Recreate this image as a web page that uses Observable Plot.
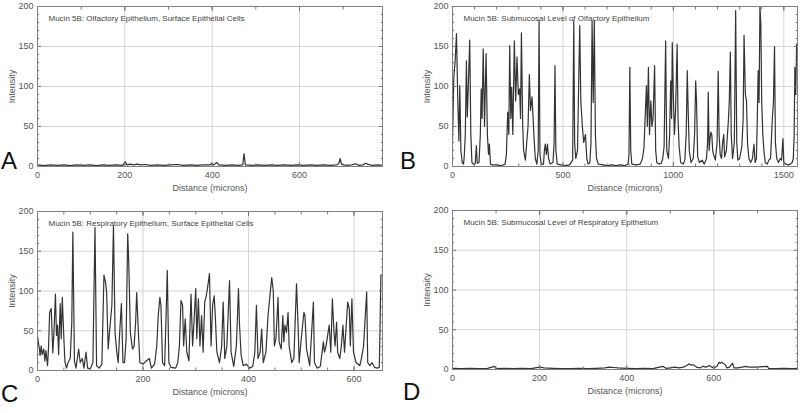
<!DOCTYPE html>
<html><head><meta charset="utf-8">
<script src="https://cdn.jsdelivr.net/npm/d3@7"></script>
<script src="https://cdn.jsdelivr.net/npm/@observablehq/plot@0.6"></script>
<style>
body{margin:0;background:#fff;}
#wrap{position:relative;width:800px;height:413px;overflow:hidden;font-family:"Liberation Sans",Arial,sans-serif;}
.panel{position:absolute;}
.letter{position:absolute;font-size:24px;line-height:24px;color:#111;font-family:"Liberation Sans",Arial,sans-serif;}
</style></head><body><div id="wrap"></div><script>
// ---------- data ----------
const panelLetters = ["A", "B", "C", "D"];
const panelTitles = [
  "Mucin 5B: Olfactory Epithelium, Surface Epithelial Cells",
  "Mucin 5B: Submucosal Level of Olfactory Epitheilum",
  "Mucin 5B: Respiratory Epitheilum, Surface Epithelial Cells",
  "Mucin 5B: Submucosal Level of Respiratory Epithelium"
];
const xLabel = "Distance (microns)";
const yLabel = "Intensity";
const yTicks = [0, 50, 100, 150, 200];
const yMinorTicks = [10,20,30,40,60,70,80,90,110,120,130,140,160,170,180,190];
const xMaxes = [790, 1562, 654, 792];
const xMajorTicks = [[0, 200, 400, 600], [0, 500, 1000, 1500], [0, 200, 400, 600], [0, 200, 400, 600]];
const xMinorTicks = [
  [100, 200, 300, 400, 500, 600, 700],
  [100, 200, 300, 400, 500, 600, 700, 800, 900, 1000, 1100, 1200, 1300, 1400, 1500],
  [50, 100, 150, 200, 250, 300, 350, 400, 450, 500, 550, 600],
  [100, 200, 300, 400, 500, 600, 700]
];

// [distance, intensity]
const panelA = [[0,2],[15,1],[30,2],[45,1.5],[60,2],[75,1],[90,2],[105,1.5],[120,2],[135,1],[150,2],[165,1.5],[180,2],[195,1.5],[201,6],[205,2],[212,3],[220,2],[228,3],[236,2],[245,2.5],[260,1.5],[275,2],[290,1.5],[305,2],[320,2.5],[335,1.5],[350,2],[365,1.5],[380,2],[395,2],[399,4],[403,2],[411,5],[415,2],[430,1.5],[445,2],[460,1.5],[470,2],[473,16],[476,2],[490,1.5],[505,2],[520,1.5],[535,2],[550,1.5],[565,2],[580,1.5],[595,2],[610,1.5],[625,2],[640,1.5],[655,2],[670,1.5],[685,2],[690,4],[693,10],[696,3],[705,1.5],[720,2],[729,3.5],[735,1.5],[745,2],[752,4],[756,3],[765,1.5],[780,2],[790,1.5]];

const panelB = [[0,30],[6,112],[12,132],[18,166],[24,82],[29,32],[33,101],[38,20],[44,5],[50,3],[53,12],[58,40],[63,132],[67,62],[71,95],[78,158],[83,40],[88,5],[95,3],[103,4],[108,26],[112,4],[120,5],[126,40],[130,97],[134,60],[139,147],[145,50],[152,141],[158,40],[163,15],[167,28],[172,3],[180,2],[200,2],[220,1],[238,3],[244,15],[250,68],[255,40],[259,151],[264,60],[268,99],[273,40],[280,157],[286,82],[292,137],[298,90],[304,97],[308,60],[312,167],[318,50],[322,20],[330,8],[336,30],[342,50],[348,115],[353,70],[360,87],[365,60],[370,32],[375,10],[382,3],[388,20],[392,182],[396,15],[402,3],[412,3],[416,20],[420,28],[425,15],[430,28],[435,10],[442,3],[455,5],[460,30],[464,126],[468,20],[474,3],[490,2],[510,1],[530,2],[544,8],[549,182],[553,30],[558,10],[566,20],[571,100],[576,176],[581,82],[588,50],[594,30],[602,40],[608,10],[614,3],[622,5],[627,30],[632,182],[637,80],[642,182],[647,40],[652,10],[660,3],[680,2],[700,1],[720,2],[740,1],[760,2],[780,1],[795,3],[799,15],[803,124],[807,20],[812,3],[830,2],[850,3],[860,10],[867,24],[872,60],[878,101],[882,50],[887,124],[892,40],[898,82],[903,50],[908,60],[915,126],[920,20],[925,5],[935,3],[945,4],[952,10],[958,25],[965,157],[970,20],[978,10],[983,40],[988,107],[992,60],[995,155],[1000,87],[1005,40],[1010,70],[1017,153],[1021,60],[1026,25],[1033,5],[1045,3],[1052,8],[1058,40],[1063,120],[1067,70],[1072,20],[1080,5],[1090,10],[1096,40],[1101,107],[1105,80],[1110,12],[1118,5],[1130,8],[1140,3],[1150,10],[1155,30],[1158,93],[1162,20],[1166,35],[1170,43],[1174,40],[1178,20],[1182,15],[1190,8],[1198,30],[1203,119],[1207,40],[1212,15],[1218,10],[1223,30],[1228,40],[1232,12],[1240,20],[1249,57],[1253,80],[1258,143],[1262,40],[1268,10],[1276,30],[1282,195],[1287,30],[1292,8],[1300,10],[1310,25],[1316,60],[1320,164],[1326,90],[1331,82],[1336,28],[1342,10],[1350,5],[1358,10],[1365,28],[1370,5],[1376,10],[1380,60],[1384,120],[1388,80],[1392,200],[1396,178],[1400,82],[1405,40],[1410,20],[1416,5],[1425,3],[1432,8],[1440,10],[1448,60],[1453,80],[1458,150],[1462,30],[1468,10],[1476,5],[1484,10],[1490,8],[1496,35],[1500,5],[1510,3],[1520,2],[1530,3],[1538,5],[1543,10],[1547,40],[1550,124],[1554,90],[1558,153],[1562,140]];

const panelC = [[0,42],[3,30],[5,19],[7,31],[9,20],[12,27],[14,12],[16,25],[19,6],[21,30],[23,73],[26,78],[29,22],[31,45],[34,96],[36,44],[38,57],[40,20],[43,84],[45,40],[47,92],[50,40],[52,11],[55,3],[58,10],[62,15],[65,60],[67,174],[70,12],[73,3],[78,27],[81,10],[85,15],[88,3],[92,23],[95,3],[100,2],[105,10],[109,180],[112,6],[117,3],[122,8],[126,120],[129,111],[131,99],[134,27],[137,52],[141,82],[144,182],[147,48],[150,25],[153,10],[156,50],[159,84],[162,10],[165,10],[168,40],[171,172],[173,136],[176,48],[180,27],[183,30],[186,60],[188,98],[191,52],[194,10],[200,8],[206,12],[212,15],[216,3],[222,8],[226,30],[229,70],[232,92],[234,82],[237,10],[241,6],[243,50],[246,126],[249,10],[253,4],[262,3],[266,10],[269,31],[272,88],[275,82],[277,31],[280,65],[283,23],[287,12],[291,96],[294,31],[297,65],[300,103],[302,40],[305,90],[308,31],[311,69],[314,23],[317,86],[320,94],[323,107],[326,122],[329,31],[332,82],[335,94],[337,69],[340,23],[345,10],[349,30],[352,86],[355,15],[359,31],[364,113],[367,23],[372,5],[377,31],[381,103],[383,57],[386,19],[390,6],[396,8],[402,3],[408,5],[412,23],[415,82],[418,15],[422,23],[425,52],[428,10],[433,23],[437,69],[444,117],[447,100],[449,31],[452,40],[456,92],[458,36],[462,27],[465,69],[467,36],[469,57],[472,48],[475,73],[477,31],[482,10],[486,15],[491,109],[494,57],[496,10],[500,40],[505,73],[507,69],[510,27],[516,6],[523,86],[525,10],[530,3],[536,5],[542,36],[544,23],[547,31],[553,57],[556,23],[559,90],[562,48],[564,31],[567,61],[569,23],[573,15],[576,31],[579,57],[582,23],[588,86],[591,78],[593,31],[596,90],[599,23],[604,10],[611,6],[614,15],[618,30],[624,99],[626,10],[630,6],[634,10],[639,4],[644,3],[648,4],[651,120],[654,120]];

const panelD = [[0,1.5],[20,1],[40,1.5],[60,1],[80,1.5],[97,4],[100,1],[120,1.5],[140,1],[160,1.5],[180,1],[200,3],[210,2],[230,1.5],[250,1],[270,1],[290,1.5],[310,1],[330,1.5],[350,2],[360,3],[370,2.5],[380,2],[400,1.5],[420,1],[440,1.5],[460,1],[483,4],[490,1.5],[500,2],[510,3],[520,2],[530,3],[538,5],[543,7],[548,5.5],[553,6],[560,3],[568,2],[575,4],[582,3],[590,5],[595,3],[600,2],[607,4],[612,9],[615,8],[618,9],[621,8],[626,6],[630,2],[636,3],[643,8],[646,2],[655,2],[665,3],[673,4],[680,3],[690,3],[700,3],[710,3.5],[723,4],[726,1],[740,1],[760,1.5],[780,1],[792,1.5]];

const panelData = [panelA, panelB, panelC, panelD];

// ---------- layout ----------
const layout = [
  {left: 0,   top: 0,   h: 205, mL: 37, mR: 18, mT: 6, mB: 39, letter: {left: 1, top: 149}},
  {left: 400, top: 0,   h: 205, mL: 52, mR: 3,  mT: 6, mB: 39, letter: {left: 400, top: 149}},
  {left: 0,   top: 205, h: 208, mL: 37, mR: 18, mT: 6, mB: 43, letter: {left: 1, top: 382}},
  {left: 400, top: 205, h: 208, mL: 52, mR: 3,  mT: 5, mB: 44, letter: {left: 403, top: 380}}
];

const wrap = document.getElementById("wrap");
const blank = () => "";
const plain = d => String(d);

panelData.forEach((data, i) => {
  const L = layout[i];
  const majors = xMajorTicks[i];
  const plot = Plot.plot({
    width: 400,
    height: L.h,
    marginLeft: L.mL, marginRight: L.mR, marginTop: L.mT, marginBottom: L.mB,
    style: {fontFamily: "Liberation Sans, Arial, sans-serif", fontSize: "9px", color: "#555", background: "transparent"},
    x: {domain: [0, xMaxes[i]]},
    y: {domain: [0, 200]},
    marks: [
      Plot.gridX(majors.filter(t => t > 0), {stroke: "#d4d4d4", strokeOpacity: 1}),
      Plot.gridY([50, 100, 150], {stroke: "#d4d4d4", strokeOpacity: 1}),
      Plot.line(data, {x: d => d[0], y: d => d[1], stroke: "#333", strokeWidth: 1.2, clip: true}),
      // labels
      Plot.axisX(majors, {anchor: "bottom", tickSize: 0, tickPadding: 5, fill: "#555", tickFormat: plain,
        label: xLabel, labelAnchor: "center", labelArrow: "none", labelOffset: 24}),
      Plot.axisY(yTicks, {anchor: "left", tickSize: 0, tickPadding: 4, fill: "#555", tickFormat: plain,
        label: yLabel, labelAnchor: "center", labelArrow: "none", labelOffset: 29}),
      // inward ticks
      Plot.axisX(xMinorTicks[i], {anchor: "bottom", tickSize: -2.5, tickFormat: blank, label: null, stroke: "#777"}),
      Plot.axisX(xMinorTicks[i], {anchor: "top", tickSize: -2.5, tickFormat: blank, label: null, stroke: "#777"}),
      Plot.axisX(majors, {anchor: "bottom", tickSize: -4, tickFormat: blank, label: null, stroke: "#777"}),
      Plot.axisX(majors, {anchor: "top", tickSize: -4, tickFormat: blank, label: null, stroke: "#777"}),
      Plot.axisY(yMinorTicks, {anchor: "left", tickSize: -2, tickFormat: blank, label: null, stroke: "#777"}),
      Plot.axisY(yMinorTicks, {anchor: "right", tickSize: -2, tickFormat: blank, label: null, stroke: "#777"}),
      Plot.axisY(yTicks, {anchor: "left", tickSize: -4, tickFormat: blank, label: null, stroke: "#777"}),
      Plot.axisY(yTicks, {anchor: "right", tickSize: -4, tickFormat: blank, label: null, stroke: "#777"}),
      Plot.frame({stroke: "#808080"}),
      Plot.text([panelTitles[i]], {frameAnchor: "top-left", textAnchor: "start", lineAnchor: "middle",
        dx: 11, dy: 12, fontSize: 8, fill: "#444", fontFamily: "Liberation Sans Narrow, Liberation Sans, Arial, sans-serif"})
    ]
  });
  plot.classList.add("panel");
  plot.style.left = L.left + "px";
  plot.style.top = L.top + "px";
  wrap.appendChild(plot);

  const letter = document.createElement("div");
  letter.className = "letter";
  letter.textContent = panelLetters[i];
  letter.style.left = L.letter.left + "px";
  letter.style.top = L.letter.top + "px";
  wrap.appendChild(letter);
});
</script></body></html>
